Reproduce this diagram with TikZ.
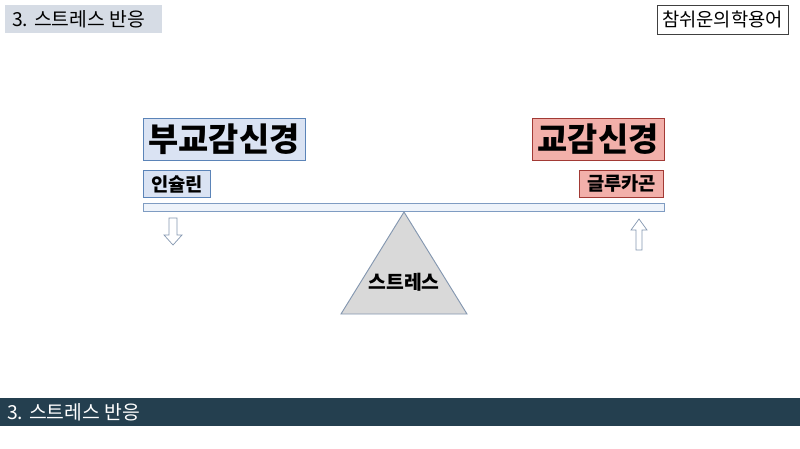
\documentclass[tikz,border=0pt]{standalone}
\usepackage{fontspec}
\setmainfont{Noto Sans CJK KR}
\usepackage{tikz}
\usetikzlibrary{positioning}
\definecolor{titlefill}{HTML}{D6DCE5}
\definecolor{parafill}{HTML}{DAE3F3}
\definecolor{paradraw}{HTML}{5B84B8}
\definecolor{symfill}{HTML}{F2B0AA}
\definecolor{symdraw}{HTML}{A23A35}
\definecolor{beamfill}{HTML}{EEF3FA}
\definecolor{beamdraw}{HTML}{7F9CC2}
\definecolor{barfill}{HTML}{243F4F}
\definecolor{arrowdraw}{HTML}{8497B0}

\begin{document}
\begin{tikzpicture}[x=0.03cm,y=-0.03cm,
      big box/.style={draw,thick,inner sep=0pt,minimum height=42*0.03cm,font=\fontsize{28}{30}\selectfont\bfseries},
      small box/.style={draw,thick,inner sep=0pt,minimum height=27*0.03cm,font=\fontsize{16}{18}\selectfont\bfseries},
      block arrow/.style={draw=arrowdraw,fill=white,semithick,line join=miter}]
  \useasboundingbox (0,0) rectangle (800,449);

  % headings
  \node[fill=titlefill,inner sep=0pt,minimum width=157*0.03cm,minimum height=28*0.03cm] (title) at (83.5,19) {};
  \node[anchor=west,inner sep=0pt,font=\fontsize{16.5}{18}\selectfont] (titletext) at (12,19) {3. 스트레스 반응};
  \node[draw=black!75,semithick,inner sep=0pt,minimum width=131*0.03cm,minimum height=29*0.03cm,
        font=\fontsize{16}{18}\selectfont] (brand) at (722.5,19.5) {참쉬운의학용어};

  % seesaw
  \node[big box,fill=parafill,draw=paradraw,minimum width=162*0.03cm] (para) at (224,139) {부교감신경};
  \node[big box,fill=symfill,draw=symdraw,minimum width=132*0.03cm] (sym) at (598,139) {교감신경};
  \node[small box,fill=parafill,draw=paradraw,minimum width=67*0.03cm,anchor=north west]
        (insulin) at (143,170) {인슐린};
  \node[small box,fill=symfill,draw=symdraw,minimum width=84*0.03cm,anchor=north east]
        (glucagon) at (664,170) {글루카곤};
  \node[draw=beamdraw,fill=beamfill,thick,inner sep=0pt,minimum width=521*0.03cm,
        minimum height=8*0.03cm] (beam) at (403.5,207) {};

  \coordinate (pivot) at (404,212);
  \coordinate (baseL) at (341,314);
  \coordinate (baseR) at (467,314);
  \draw[draw=arrowdraw,fill=black!15,thick] (pivot) -- (baseL) -- (baseR) -- cycle;
  \node[font=\fontsize{16.5}{18}\selectfont\bfseries] (stress) at (404,282) {스트레스};

  % level arrows
  \coordinate (down) at (173,245);
  \draw[block arrow] (down) -- ++(-9,-10) -- ++(5,0) -- ++(0,-17) -- ++(8,0)
        -- ++(0,17) -- ++(5,0) -- cycle;
  \coordinate (up) at (639,219);
  \draw[block arrow] (up) -- ++(-8,11) -- ++(5,0) -- ++(0,20) -- ++(6,0)
        -- ++(0,-20) -- ++(5,0) -- cycle;

  % footer
  \node[fill=barfill,inner sep=0pt,minimum width=800*0.03cm,minimum height=28*0.03cm] (bar) at (400,412) {};
  \node[text=white,anchor=west,inner sep=0pt,font=\fontsize{16.5}{18}\selectfont] (footer) at (7,412) {3. 스트레스 반응};
\end{tikzpicture}
\end{document}
